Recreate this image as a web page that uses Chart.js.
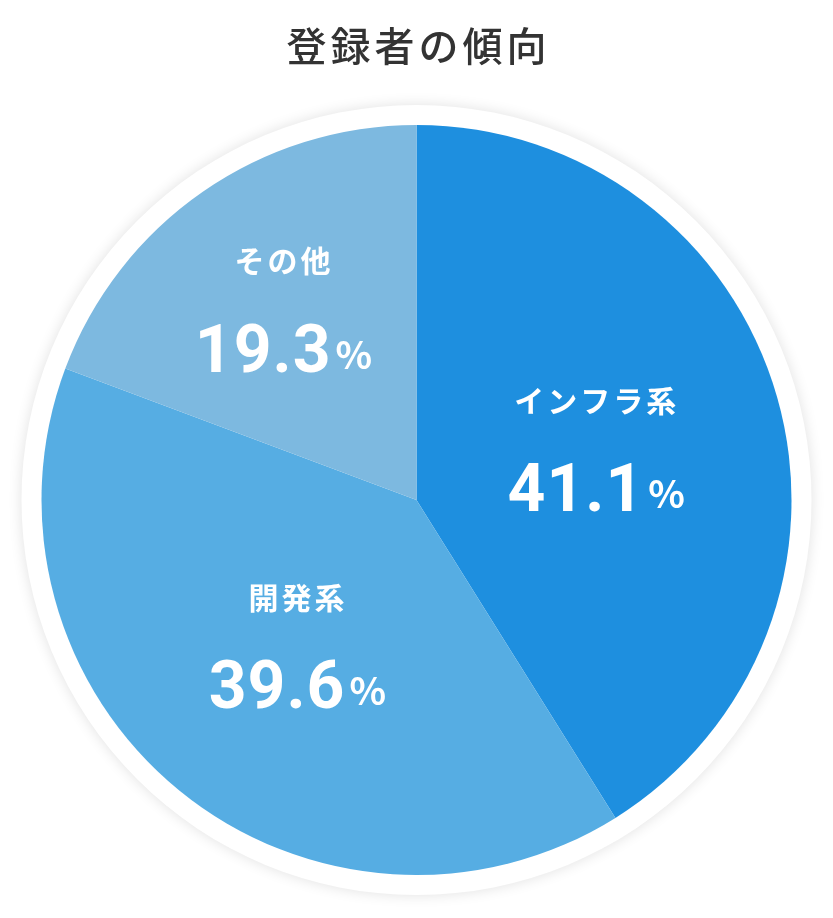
<!DOCTYPE html>
<html><head><meta charset="utf-8">
<script src="https://cdn.jsdelivr.net/npm/chart.js@4"></script>
<style>html,body{margin:0;padding:0;background:#fff}#w{width:833px;height:918px}</style>
</head><body><div id="w"><canvas id="c"></canvas></div>
<script>
const categories = ["インフラ系", "開発系", "その他"];
const values = [41.1, 39.6, 19.3];
const colors = ["#1E8FDF", "#56ADE3", "#7DB9E0"];
const titleText = "登録者の傾向";
const FONT = '"Noto Sans CJK JP", "Noto Sans", sans-serif';
const rf = [0.5, 0.5, 0.62];

const deco = {
  id: 'deco',
  beforeDatasetsDraw(chart) {
    const a = chart.getDatasetMeta(0).data[0];
    const ctx = chart.ctx;
    ctx.save();
    ctx.shadowColor = 'rgba(0,0,0,0.12)';
    ctx.shadowBlur = 14;
    ctx.fillStyle = '#fff';
    ctx.beginPath(); ctx.arc(a.x, a.y, a.outerRadius + 20, 0, Math.PI * 2); ctx.fill();
    ctx.restore();
  },
  afterDraw(chart) {
    const ctx = chart.ctx;
    ctx.save();
    ctx.fillStyle = '#333';
    ctx.font = '500 40px ' + FONT;
    ctx.textAlign = 'center'; ctx.textBaseline = 'middle';
    ctx.letterSpacing = '4px';
    ctx.fillText(titleText, chart.width / 2 + 2, 46);
    ctx.letterSpacing = '3px';
    chart.getDatasetMeta(0).data.forEach((arc, i) => {
      const mid = (arc.startAngle + arc.endAngle) / 2;
      const r = arc.outerRadius * rf[i];
      const x = arc.x + Math.cos(mid) * r, y = arc.y + Math.sin(mid) * r;
      ctx.fillStyle = '#fff';
      ctx.font = 'bold 30px ' + FONT;
      ctx.textAlign = 'center';
      ctx.fillText(categories[i], x, y - 48);
      ctx.letterSpacing = '1px';
      const num = values[i].toFixed(1);
      ctx.font = 'bold 66px Roboto, sans-serif';
      const w1 = ctx.measureText(num).width;
      ctx.font = 'bold 38px ' + FONT;
      const w2 = ctx.measureText('%').width;
      const sx = x - (w1 + w2 + 4) / 2;
      ctx.textAlign = 'left'; ctx.textBaseline = 'alphabetic';
      ctx.font = 'bold 66px Roboto, sans-serif';
      ctx.fillText(num, sx, y + 63);
      ctx.font = 'bold 38px ' + FONT;
      ctx.fillText('%', sx + w1 + 4, y + 60);
      ctx.textBaseline = 'middle';
      ctx.letterSpacing = '3px';
    });
    ctx.restore();
  }
};

new Chart(document.getElementById('c'), {
  type: 'pie',
  data: { labels: categories, datasets: [{ data: values, backgroundColor: colors, borderWidth: 0 }] },
  options: {
    responsive: true, maintainAspectRatio: false, animation: false,
    layout: { padding: { top: 125, bottom: 43, left: 40, right: 40 } },
    plugins: { legend: { display: false }, tooltip: { enabled: false } }
  },
  plugins: [deco]
});
</script></body></html>
